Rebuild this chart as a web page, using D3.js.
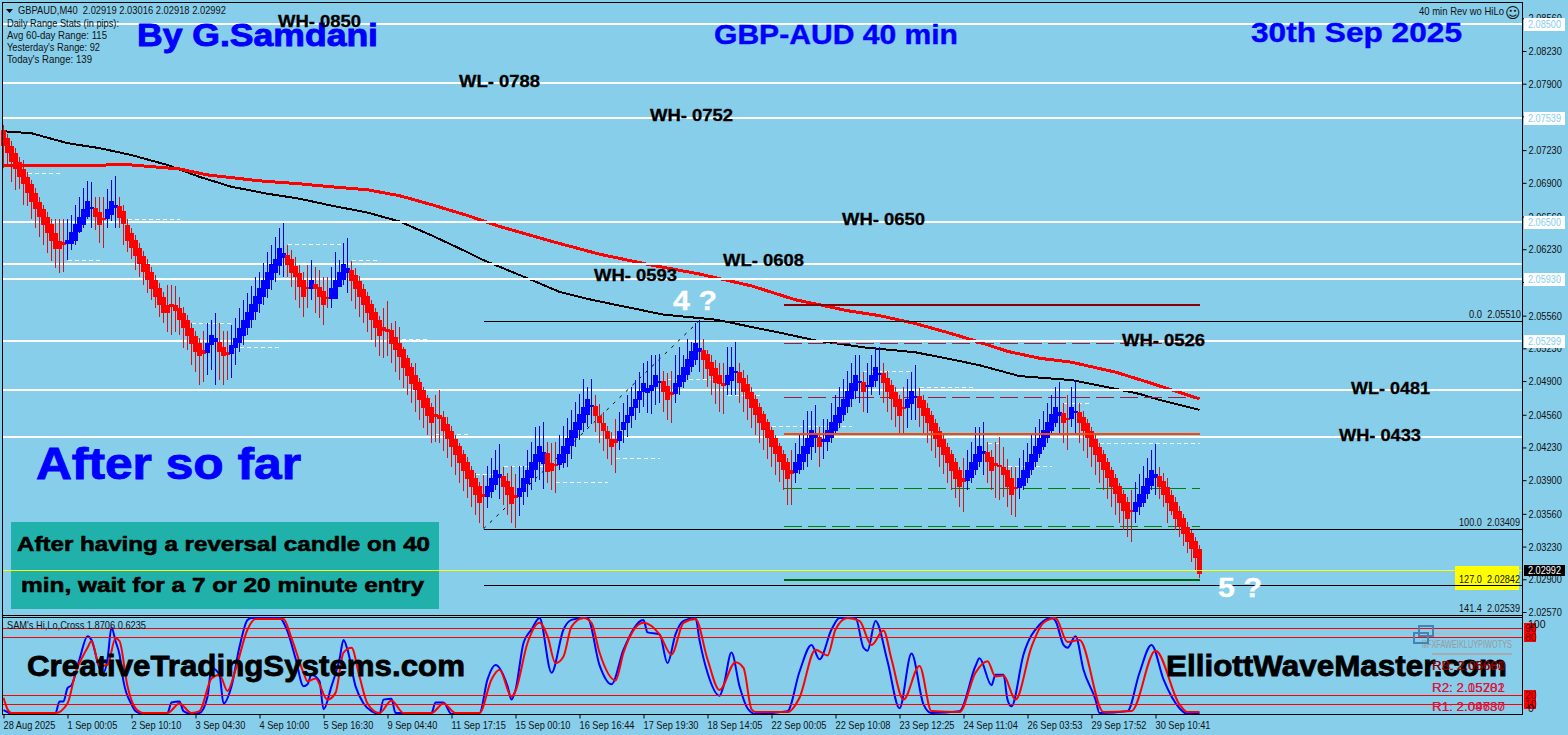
<!DOCTYPE html>
<html><head><meta charset="utf-8">
<script src="https://cdn.jsdelivr.net/npm/d3@7/dist/d3.min.js"></script>
<style>html,body{margin:0;padding:0;background:#87CEEB;overflow:hidden}svg{display:block}</style>
</head><body><svg id="c" width="1568" height="735"></svg>
<script>
// Prices are in 1/10000 units (20743 = 2.0743)
const openPips=[20743,20735,20727,20720,20711,20704,20696,20689,20680,20671,
20664,20656,20648,20639,20631,20630,20628,20628,20631,20640,
20647,20656,20664,20665,20661,20655,20653,20658,20665,20667,
20662,20647,20639,20632,20624,20616,20608,20600,20592,20584,
20575,20567,20568,20567,20564,20559,20552,20544,20535,20528,
20521,20518,20526,20529,20529,20524,20519,20517,20523,20528,
20535,20544,20552,20560,20568,20575,20583,20592,20599,20606,
20614,20617,20613,20606,20599,20592,20585,20583,20588,20585,
20581,20575,20573,20573,20585,20592,20599,20602,20597,20591,
20583,20576,20568,20560,20552,20545,20543,20542,20534,20528,
20522,20513,20504,20496,20489,20481,20473,20464,20457,20456,
20454,20447,20440,20432,20424,20416,20408,20400,20392,20384,
20376,20373,20378,20385,20392,20394,20389,20383,20375,20373,
20378,20386,20392,20400,20408,20406,20417,20407,20406,20405,
20407,20416,20424,20433,20441,20448,20456,20464,20465,20455,
20448,20440,20432,20432,20430,20441,20448,20455,20463,20471,
20479,20478,20480,20484,20489,20490,20485,20479,20477,20484,
20489,20496,20504,20511,20519,20521,20517,20509,20503,20496,
20488,20486,20490,20498,20499,20493,20487,20479,20472,20464,
20457,20449,20441,20433,20424,20416,20408,20400,20397,20400,
20408,20416,20423,20433,20434,20429,20429,20433,20440,20448,
20456,20464,20472,20480,20488,20489,20484,20484,20490,20496,
20498,20493,20486,20479,20472,20464,20463,20467,20473,20475,
20471,20463,20456,20448,20440,20432,20423,20416,20408,20400,
20392,20389,20392,20400,20408,20416,20418,20413,20407,20405,
20403,20400,20392,20383,20382,20384,20392,20400,20408,20416,
20423,20433,20440,20448,20455,20458,20453,20452,20458,20459,
20454,20448,20440,20432,20423,20416,20408,20400,20392,20384,
20376,20368,20360,20358,20363,20367,20376,20384,20392,20394,
20389,20383,20375,20368,20359,20352,20343,20337,20329,20321];
const closePips=[20727,20720,20711,20704,20696,20689,20680,20671,20664,20656,
20647,20639,20631,20623,20623,20627,20632,20640,20648,20656,
20664,20672,20666,20656,20647,20653,20664,20672,20668,20655,
20648,20631,20624,20616,20608,20600,20592,20583,20575,20567,
20559,20559,20565,20561,20552,20544,20535,20527,20519,20515,
20517,20528,20536,20533,20519,20515,20516,20526,20533,20544,
20552,20560,20568,20576,20584,20592,20600,20608,20613,20624,
20619,20607,20599,20595,20585,20575,20583,20592,20583,20575,
20567,20573,20584,20592,20600,20608,20604,20591,20583,20575,
20567,20559,20552,20544,20535,20541,20539,20527,20521,20514,
20503,20495,20487,20481,20471,20463,20455,20448,20454,20452,
20440,20432,20423,20415,20407,20399,20391,20383,20375,20367,
20373,20384,20392,20400,20396,20383,20375,20366,20372,20382,
20392,20400,20408,20416,20424,20418,20398,20399,20404,20416,
20424,20433,20441,20449,20457,20464,20472,20466,20455,20448,
20440,20432,20423,20428,20440,20449,20456,20464,20472,20480,
20488,20483,20486,20496,20490,20479,20471,20476,20488,20496,
20504,20512,20520,20528,20523,20511,20502,20495,20488,20487,
20485,20496,20504,20500,20488,20479,20472,20463,20456,20448,
20441,20433,20423,20416,20408,20400,20391,20396,20408,20416,
20424,20433,20441,20436,20423,20432,20441,20449,20456,20464,
20472,20480,20488,20496,20490,20479,20486,20496,20504,20498,
20488,20479,20472,20464,20455,20462,20472,20480,20475,20463,
20455,20448,20440,20432,20423,20415,20407,20399,20391,20383,
20388,20400,20408,20416,20424,20419,20408,20399,20404,20403,
20395,20383,20375,20381,20392,20400,20408,20416,20424,20433,
20441,20449,20457,20464,20459,20448,20452,20464,20460,20448,
20440,20433,20423,20415,20408,20400,20392,20383,20376,20367,
20359,20351,20358,20368,20376,20384,20392,20400,20396,20383,
20375,20367,20359,20351,20343,20336,20328,20321,20311,20295];
const highPips=[20748,20739,20732,20725,20716,20713,20701,20693,20685,20676,
20668,20661,20653,20653,20653,20653,20653,20658,20668,20676,
20685,20692,20691,20676,20676,20676,20684,20693,20697,20676,
20668,20653,20644,20637,20629,20621,20613,20605,20597,20589,
20580,20587,20587,20586,20575,20565,20557,20549,20541,20533,
20541,20549,20552,20559,20549,20541,20541,20547,20554,20564,
20572,20579,20586,20595,20600,20609,20620,20627,20635,20644,
20649,20627,20622,20615,20607,20600,20607,20612,20605,20602,
20595,20595,20605,20620,20612,20629,20634,20611,20604,20596,
20588,20580,20572,20564,20556,20564,20571,20549,20551,20545,
20524,20516,20508,20508,20493,20484,20476,20468,20476,20481,
20460,20454,20445,20436,20428,20420,20413,20404,20397,20388,
20395,20404,20412,20420,20427,20403,20397,20404,20396,20404,
20404,20420,20429,20444,20445,20449,20429,20428,20429,20436,
20445,20453,20461,20469,20477,20492,20484,20492,20476,20467,
20459,20445,20439,20452,20459,20468,20476,20484,20491,20499,
20508,20510,20516,20516,20517,20500,20498,20500,20516,20524,
20516,20532,20529,20549,20552,20532,20521,20516,20511,20508,
20508,20524,20524,20529,20508,20501,20496,20484,20476,20468,
20460,20452,20444,20436,20428,20420,20412,20420,20428,20436,
20451,20460,20460,20466,20444,20452,20452,20468,20476,20484,
20492,20500,20508,20516,20516,20499,20508,20516,20524,20524,
20508,20500,20491,20484,20476,20484,20492,20499,20506,20483,
20476,20468,20460,20452,20444,20436,20428,20420,20412,20403,
20412,20420,20429,20444,20444,20449,20429,20420,20429,20434,
20423,20411,20403,20403,20412,20420,20428,20436,20444,20452,
20460,20468,20476,20484,20489,20468,20476,20484,20491,20468,
20460,20452,20444,20436,20428,20420,20412,20403,20396,20387,
20380,20373,20380,20388,20396,20404,20412,20420,20426,20403,
20397,20392,20380,20373,20364,20356,20348,20340,20333,20325];
const lowPips=[20705,20708,20691,20683,20684,20668,20667,20653,20644,20635,
20627,20619,20611,20604,20599,20600,20612,20622,20627,20639,
20644,20653,20644,20642,20629,20624,20644,20651,20644,20644,
20627,20620,20613,20602,20595,20587,20579,20572,20564,20555,
20549,20540,20536,20540,20536,20523,20521,20506,20499,20486,
20489,20496,20501,20486,20491,20486,20491,20493,20506,20519,
20526,20536,20544,20552,20559,20567,20574,20582,20590,20597,
20595,20595,20585,20572,20564,20555,20564,20572,20559,20554,
20547,20564,20564,20577,20585,20587,20579,20571,20563,20555,
20549,20540,20531,20524,20515,20513,20515,20508,20499,20491,
20483,20476,20468,20459,20451,20443,20436,20428,20429,20428,
20419,20412,20403,20395,20387,20379,20372,20363,20355,20347,
20342,20362,20372,20380,20371,20365,20355,20347,20342,20354,
20365,20373,20380,20388,20390,20381,20387,20380,20377,20400,
20402,20403,20411,20423,20431,20439,20444,20447,20439,20428,
20419,20411,20405,20397,20420,20428,20434,20443,20451,20458,
20464,20458,20457,20466,20468,20459,20451,20448,20468,20476,
20483,20491,20499,20506,20499,20492,20484,20476,20467,20459,
20457,20476,20476,20476,20468,20459,20451,20443,20436,20428,
20420,20411,20403,20395,20388,20380,20365,20365,20387,20396,
20400,20403,20410,20417,20403,20411,20419,20428,20436,20443,
20450,20458,20464,20472,20468,20459,20458,20476,20484,20476,
20468,20459,20451,20444,20436,20436,20443,20451,20451,20444,
20438,20428,20419,20412,20403,20396,20387,20380,20372,20363,
20358,20380,20387,20395,20403,20395,20387,20380,20372,20370,
20373,20363,20355,20353,20371,20380,20387,20395,20403,20412,
20420,20428,20436,20444,20436,20428,20420,20444,20436,20428,
20419,20412,20403,20395,20387,20380,20371,20363,20355,20347,
20340,20333,20328,20347,20355,20363,20371,20380,20375,20371,
20363,20347,20355,20340,20333,20324,20317,20307,20299,20291];

const blackMaBars=[0,7,16,24,32,41,49,57,66,74,82,91,99,107,116,120,132,139,147,165,178,195,203,215,228,238,244,254,267,277,284,289,299];
const blackMaPips=[20742,20740,20730,20725,20718,20708,20696,20686,20679,20674,20667,20660,20651,20637,20620,20612,20592,20580,20572,20557,20552,20538,20531,20524,20519,20511,20506,20495,20491,20483,20477,20471,20461];
const redMaBars=[0,14,26,32,44,51,64,74,82,91,99,107,116,124,137,149,162,174,187,198,204,211,219,228,236,241,251,259,267,278,286,299];
const redMaPips=[20707,20707,20708,20708,20704,20698,20692,20689,20686,20683,20677,20668,20657,20646,20631,20618,20607,20598,20586,20572,20567,20561,20556,20548,20539,20533,20520,20513,20509,20499,20489,20472];

const whiteLevels=[2.0850,2.0791,2.0755,2.0650,2.06085,2.05934,2.05307,2.0481,2.04339];
const fibLevels=[2.05510,2.03409,2.02842,2.02539];
const fibLabels=["0.0  2.05510","100.0  2.03409","127.0  2.02842","141.4  2.02539"];
const currentPrice=2.02992;
const priceTicks=[2.0856,2.0823,2.0790,2.0757,2.0723,2.0690,2.0656,2.0623,2.0590,2.0556,2.0523,2.0490,2.0456,2.0423,2.0390,2.0356,2.0323,2.0290,2.0257];
const priceFlags=[[2.0850,"2.08500"],[2.0755,"2.07539"],[2.0650,"2.06500"],[2.05934,"2.05930"],[2.05307,"2.05299"]];

const hiloStart=[0,6,31,16,47,59,71,87,96,108,118,125,138,153,166,181,192,215,229,246,251,265,274];
const hiloEnd=[4,14,44,24,57,69,85,94,106,116,123,136,151,164,179,189,212,227,243,249,262,272,299];
const hiloPips=[20756,20700,20653,20612,20549,20524,20628,20612,20532,20437,20396,20404,20388,20412,20492,20476,20445,20500,20484,20428,20404,20468,20428];

const timeTickBars=[0,16,32,48,64,80,96,112,128,144,160,176,192,208,224,240,256,272,288];
const timeLabels=["28 Aug 2025","1 Sep 00:05","2 Sep 10:10","3 Sep 04:30","4 Sep 10:00","5 Sep 16:30","9 Sep 04:40","11 Sep 17:15","15 Sep 00:10","16 Sep 16:44","17 Sep 19:30","18 Sep 14:05","22 Sep 00:05","22 Sep 10:08","23 Sep 12:25","24 Sep 11:04","26 Sep 03:53","29 Sep 17:52","30 Sep 10:41"];

const blueBars=[0,1,2,13,14,15,16,17,19,21,22,24,25,26,27,28,29,30,32,33,35,41,42,44,45,47,49,51,52,54,55,57,59,61,62,69,71,73,75,76,77,79,80,82,84,85,86,88,90,92,94,95,97,98,107,108,110,112,119,121,123,126,127,128,130,132,134,137,140,142,145,146,149,152,155,160,161,164,166,168,170,173,174,176,179,180,182,184,186,188,196,199,202,204,207,209,213,215,216,218,221,224,227,230,232,239,243,244,247,248,250,251,252,255,259,262,263,265,266,268,270,273,274,281,284,287,290,294,296,299];
const blueVals=[4,2,0,1,13,13,27,30,57,81,77,48,43,57,90,76,62,34,10,3,0,1,12,13,3,0,1,18,48,41,11,29,70,98,100,100,86,58,29,31,41,34,5,29,57,77,67,29,11,3,0,15,16,1,1,12,12,0,1,36,51,29,15,25,74,88,100,43,88,98,100,100,51,31,67,98,85,83,53,83,97,100,77,43,19,29,64,29,6,0,3,44,72,57,88,100,100,69,66,97,55,6,63,10,1,3,50,58,30,41,41,15,8,62,93,100,97,72,69,81,46,15,1,3,43,72,36,6,0,1];
const signalBars=[0,1,2,13,16,18,21,22,24,26,28,29,31,33,35,41,44,47,49,52,54,56,58,61,63,70,72,75,76,78,81,83,85,87,89,91,94,97,100,107,110,113,119,122,124,127,128,131,134,136,138,140,142,145,147,149,153,155,160,164,167,170,173,176,179,183,185,187,188,196,199,203,206,208,211,214,217,220,222,225,229,232,239,243,246,248,250,253,257,260,263,266,269,275,282,288,294,296,299];
const signalVals=[17,5,1,1,11,43,69,76,50,51,79,76,29,6,1,1,11,1,3,37,41,24,46,88,99,99,79,43,34,37,15,22,64,69,39,11,1,14,1,1,11,1,1,36,46,18,24,74,95,81,53,60,91,100,95,64,35,64,95,83,62,95,99,57,25,54,48,5,2,2,17,67,61,88,100,97,72,87,57,15,50,3,2,43,55,39,40,15,70,95,100,75,77,2,3,66,10,2,2];
const oscLevels=[90,80,20,10];

const W=1523,BAR0=3.5,BARN=1199.5;
const x=d3.scaleLinear().domain([0,299]).range([BAR0,BARN]);
const y=d3.scaleLinear().domain([2.0257,2.0823]).range([612,51]);
const osc=d3.scaleLinear().domain([0,100]).range([714,618]);
const P=v=>v/1e4;
const svg=d3.select("#c");
const UI="'Liberation Sans',sans-serif";
const crisp=s=>s.attr("shape-rendering","crispEdges");

function hLine(g,v,x1,x2,color,width,dash){
  const yy=Math.round(y(v))+(Math.round(width)%2?0.5:0);
  return g.append("line").attr("x1",x1).attr("x2",x2).attr("y1",yy).attr("y2",yy)
    .attr("stroke",color).attr("stroke-width",width).attr("stroke-dasharray",dash||null)
    .attr("shape-rendering","crispEdges");
}
function txt(parent,s,px,py,size,color,len,bold,stroke){
  const t=parent.append("text").text(s).attr("x",px).attr("y",py)
    .attr("font-family",UI).attr("font-size",size).attr("fill",color)
    .attr("xml:space","preserve").style("white-space","pre");
  if(bold)t.attr("font-weight","bold");
  if(stroke)t.attr("stroke",color).attr("stroke-width",stroke);
  if(len)t.attr("textLength",len).attr("lengthAdjust","spacingAndGlyphs");
  return t;
}

svg.append("rect").attr("width",1568).attr("height",735).attr("fill","#87CEEB");

// moving averages
const priceLine=d3.line().x(d=>x(d[0])).y(d=>y(P(d[1])));
const maG=svg.append("g").attr("fill","none").attr("shape-rendering","crispEdges");
maG.append("path").attr("d",priceLine(blackMaBars.map((b,i)=>[b,blackMaPips[i]]))).attr("stroke","#000").attr("stroke-width",2);
maG.append("path").attr("d",priceLine(redMaBars.map((b,i)=>[b,redMaPips[i]]))).attr("stroke","#f00").attr("stroke-width",3);

// hi/lo dashed segments
const hl=svg.append("g");
hiloPips.forEach((p,i)=>hLine(hl,P(p),x(hiloStart[i]),x(hiloEnd[i]),"#fff",1,"4,3"));

// white levels
const wl=svg.append("g");
whiteLevels.forEach(v=>hLine(wl,v,3,W,"#fff",2));

// fib
const fib=svg.append("g");
fibLevels.forEach(v=>hLine(fib,v,x(120),W,"#000",1));
fib.append("line").attr("x1",x(120)).attr("y1",y(2.03409)).attr("x2",x(174)).attr("y2",y(2.0551))
  .attr("stroke","#000").attr("stroke-width",1).attr("stroke-dasharray","3,6");

// dashed channel lines behind candles
const ch=svg.append("g");
const S=x(195),E=x(299);
hLine(ch,2.05284,S,E,"#A81838",1,"18,6");
hLine(ch,2.04738,S,E,"#A81838",1,"18,6");
hLine(ch,2.0382,S,E,"#008000",1,"18,6");
hLine(ch,2.0344,S,E,"#008000",1,"18,6");

// candles
const n=openPips.length,idx=d3.range(n);
const col=i=>closePips[i]>=openPips[i]?"#0000FF":"#FF0000";
const wick=i=>closePips[i]>=openPips[i]?"#0000E0":"#D0141E";
const cg=crisp(svg.append("g"));
cg.selectAll(".w").data(idx).join("line").attr("class","w")
  .attr("x1",x).attr("x2",x)
  .attr("y1",i=>y(P(highPips[i]))).attr("y2",i=>y(P(lowPips[i])))
  .attr("stroke",wick).attr("stroke-width",1);
cg.selectAll(".b").data(idx).join("rect").attr("class","b")
  .attr("x",i=>x(i)-2.5).attr("width",5)
  .attr("y",i=>y(P(Math.max(openPips[i],closePips[i]))))
  .attr("height",i=>Math.max(2,Math.abs(y(P(openPips[i]))-y(P(closePips[i])))))
  .attr("fill",col);

// teal box
svg.append("rect").attr("x",11).attr("y",522).attr("width",428).attr("height",87).attr("fill","#20B2AA");

// front lines
const fr=svg.append("g");
hLine(fr,2.0567,S,E,"#8B0000",2);
hLine(fr,2.04365,S,E,"#FF4500",2);
hLine(fr,2.02890,S,E,"#006400",2);
hLine(fr,currentPrice,3,W,"#FFFF00",1);

// oscillator panel
const pan=svg.append("g");
crisp(pan.append("line").attr("x1",2).attr("x2",W).attr("y1",615.5).attr("y2",615.5).attr("stroke","#000"));
crisp(pan.append("line").attr("x1",2).attr("x2",W).attr("y1",617.5).attr("y2",617.5).attr("stroke","#000"));
const oscLine=d3.line().x(d=>x(d[0])).y(d=>osc(d[1])).curve(d3.curveMonotoneX);
pan.append("path").attr("d",oscLine(blueBars.map((b,i)=>[b,blueVals[i]]))).attr("fill","none").attr("stroke","#0000FF").attr("stroke-width",2);
pan.append("path").attr("d",oscLine(signalBars.map((b,i)=>[b,signalVals[i]]))).attr("fill","none").attr("stroke","#FF0000").attr("stroke-width",2);
oscLevels.forEach(v=>{
  const yy=Math.round(osc(v))+0.5;
  crisp(pan.append("line").attr("x1",3).attr("x2",W).attr("y1",yy).attr("y2",yy).attr("stroke","#f00"));
});

// frame
const fr2=crisp(svg.append("g").attr("stroke","#000").attr("stroke-width",1));
fr2.append("line").attr("x1",2.5).attr("x2",2.5).attr("y1",2).attr("y2",714);
fr2.append("line").attr("x1",2).attr("x2",W).attr("y1",2.5).attr("y2",2.5);
fr2.append("line").attr("x1",1522.5).attr("x2",1522.5).attr("y1",2).attr("y2",714);

// axes
const squeeze=function(){
  const l=this.getComputedTextLength();
  d3.select(this).attr("textLength",l*0.84).attr("lengthAdjust","spacingAndGlyphs");
};
const yAxis=svg.append("g").attr("transform","translate(1522.5,0)")
  .call(d3.axisRight(y).tickValues(priceTicks).tickSize(4).tickPadding(2).tickFormat(d3.format(".5f")));
yAxis.select(".domain").remove();
yAxis.selectAll("text").attr("font-family",UI).attr("font-size",11).attr("fill","#111").each(squeeze);
const tAxis=svg.append("g").attr("transform","translate(0,714.5)")
  .call(d3.axisBottom(x).tickValues(timeTickBars).tickSize(4).tickPadding(3).tickFormat((d,i)=>timeLabels[i]));
tAxis.select(".domain").attr("d","M2,0H1523");
tAxis.selectAll("text").attr("font-family",UI).attr("font-size",11).attr("fill","#111").attr("text-anchor","start").attr("dx",-0.5).each(squeeze);

// price flags
const fl=svg.append("g");
priceFlags.forEach(([v,s])=>{
  const yy=y(v);
  fl.append("rect").attr("x",1524).attr("y",Math.round(yy)-6).attr("width",41).attr("height",13).attr("fill","#fff");
  txt(fl,s,1528,yy+4,11,"#87CEEB",33);
});
fl.append("rect").attr("x",1524).attr("y",Math.round(y(currentPrice))-5).attr("width",41).attr("height",11).attr("fill","#000");
txt(fl,"2.02992",1528,y(currentPrice)+4,11,"#fff",33);

// fib labels
fl.append("rect").attr("x",1455).attr("y",566).attr("width",64).attr("height",24).attr("fill","#FFFF00");
hLine(fl,fibLevels[2],1455,1522,"#000",1);
txt(fl,fibLabels[0],1469,318,11,"#111",52);
txt(fl,fibLabels[1],1459,526,11,"#111",61);
txt(fl,fibLabels[2],1459,583,11,"#111",61);
txt(fl,fibLabels[3],1459,612,11,"#111",61);

// osc right labels
const ol=svg.append("g");
oscLevels.forEach(v=>{
  const yy=Math.round(osc(v));
  ol.append("rect").attr("x",1524).attr("y",yy-5).attr("width",12).attr("height",10).attr("fill","#f00");
  txt(ol,String(v),1525,yy+4,10.5,"#600");
});
txt(ol,"100",1528,628,10.5,"#111");
txt(ol,"0",1528,712,10.5,"#111");

// info text
const t=svg.append("g");
t.append("path").attr("d",d3.line()([[6,9],[13,9],[9.5,13]])+"Z").attr("fill","#000");
txt(t,"GBPAUD,M40  2.02919 2.03016 2.02918 2.02992",18,14,11,"#111",208);
txt(t,"Daily Range Stats (in pips):",7,27,11,"#111",112);
txt(t,"Avg 60-day Range: 115",7,39,11,"#111",100);
txt(t,"Yesterday's Range: 92",7,51,11,"#111",93);
txt(t,"Today's Range: 139",7,63,11,"#111",85);
txt(t,"40 min Rev wo HiLo",1419,15,11,"#111",85);
txt(t,"SAM's Hi,Lo,Cross 1.8706 0.6235",7,629,11,"#111",139);
t.append("text").text("\u263A").attr("x",1505).attr("y",18).attr("font-family","DejaVu Sans").attr("font-size",15).attr("fill","#111");

// big labels
txt(t,"By G.Samdani",137,46,31,"#0000FF",241,true,0.9);
txt(t,"GBP-AUD 40 min",714,44,28,"#0000FF",244,true,0.4);
txt(t,"30th Sep 2025",1251,42,28,"#0000FF",211,true,0.4);
txt(t,"After so far",36,479,45,"#0000FF",265,true,0.9);
txt(t,"WH- 0850",278,27,17,"#000",83,true,0.3);
txt(t,"WL- 0788",459,87,17,"#000",81,true,0.3);
txt(t,"WH- 0752",650,121,17,"#000",83,true,0.3);
txt(t,"WH- 0650",842,225,17,"#000",83,true,0.3);
txt(t,"WL- 0608",723,266,17,"#000",81,true,0.3);
txt(t,"WH- 0593",594,281,17,"#000",83,true,0.3);
txt(t,"WH- 0526",1122,346,17,"#000",83,true,0.3);
txt(t,"WL- 0481",1351,394,17,"#000",79,true,0.3);
txt(t,"WH- 0433",1339,441,17,"#000",82,true,0.3);
txt(t,"4 ?",673,310,28,"#fff",44,true,0.3);
txt(t,"5 ?",1218,597,28,"#fff",44,true,0.3);
txt(t,"After having a reversal candle on 40",17,551,21,"#000",413,true,0.6);
txt(t,"min, wait for a 7 or 20 minute entry",21,592,21,"#000",403,true,0.6);

// logo & pivots
const lg=svg.append("g").attr("fill","none").attr("stroke","#4682B4").attr("stroke-width",2);
crisp(lg.append("rect").attr("x",1419).attr("y",626).attr("width",14).attr("height",10));
crisp(lg.append("rect").attr("x",1414).attr("y",633).attr("width",14).attr("height",10));
crisp(t.append("line").attr("x1",1432).attr("x2",1512).attr("y1",633.5).attr("y2",633.5).attr("stroke","#b8b8b8"));
crisp(t.append("line").attr("x1",1432).attr("x2",1512).attr("y1",654).attr("y2",654).attr("stroke","#aaa").attr("stroke-width",2));
txt(t,"lilFXFAWEIKLUYPIWOTYS",1422,648,10,"#999",90);
txt(t,"CreativeTradingSystems.com",27,676,29,"#000",438,true,0.8);
txt(t,"ElliottWaveMaster.com",1166,676,29,"#000",341,true,0.8);
txt(t,"R3: 2.05660",1432,670,13,"#8B0000",73);
txt(t,"RB: 2.06681",1432,670,13,"#8B0000",73);
txt(t,"R2: 2.05281",1432,692,13,"#DC143C",73);
txt(t,"R2: 2.15702",1432,692,13,"#DC143C",73);
txt(t,"R1: 2.04737",1432,711,13,"#DC143C",73);
txt(t,"R1: 2.09680",1432,711,13,"#DC143C",73);
</script></body></html>
